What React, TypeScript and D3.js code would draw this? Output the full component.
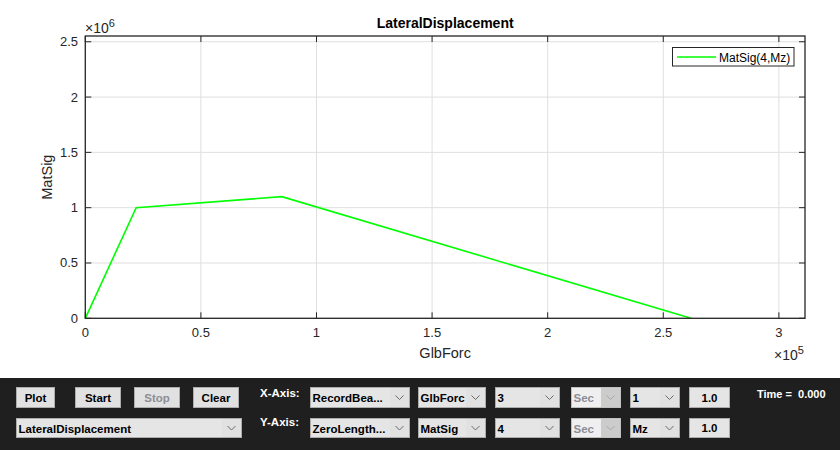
import React from "react";
import * as d3 from "d3";

// ---- chart data ----
const seriesX = [0, 2.2e4, 8.5e4, 2.62e5];
const seriesY = [0, 1.0e6, 1.1e6, 0];
const xTicks = [0, 0.5e5, 1e5, 1.5e5, 2e5, 2.5e5, 3e5];
const xTickLabels = ["0", "0.5", "1", "1.5", "2", "2.5", "3"];
const yTicks = [0, 0.5e6, 1e6, 1.5e6, 2e6, 2.5e6];
const yTickLabels = ["0", "0.5", "1", "1.5", "2", "2.5"];
const xDomain = [0, 3.113e5];
const yDomain = [0, 2.552e6];
const chartTitle = "LateralDisplacement";
const xLabel = "GlbForc";
const yLabel = "MatSig";
const legendLabel = "MatSig(4,Mz)";

// ---- control panel content ----
const buttonLabels = ["Plot", "Start", "Stop", "Clear"];
const buttonDisabled = [false, false, true, false];
const row1Dropdowns = ["RecordBea...", "GlbForc", "3", "Sec", "1"];
const row2Dropdowns = ["ZeroLength...", "MatSig", "4", "Sec", "Mz"];
const dropdownDisabled = [false, false, false, true, false];
const fieldValues = ["1.0", "1.0"];
const axisLabels = ["X-Axis:", "Y-Axis:"];
const plotSelection = "LateralDisplacement";
const timeText = "Time =  0.000";

const W = 840;
const H = 450;
const L = 85.3, R = 805, T = 36, B = 318.3;
const chartFont = "Liberation Sans, Arial, Helvetica, sans-serif";
const uiFont = "Liberation Sans, Arial, sans-serif";
const uiSize = 11.5;

const ddX = [[310, 410], [418, 486], [495, 560], [571, 621], [630, 680]];
const btnX = [[16, 55], [75, 121], [134, 180], [193, 239]];

function Chevron({ x, y, color }: { x: number; y: number; color: string }) {
  return (
    <path d={`M${x - 4},${y - 2} L${x},${y + 2} L${x + 4},${y - 2}`} fill="none" stroke={color} strokeWidth={1} />
  );
}

function Dropdown({ x0, x1, y0, y1, text, disabled }: any) {
  const cw = 20;
  return (
    <g>
      <rect x={x0 + 0.5} y={y0 + 0.5} width={x1 - x0 - 1} height={y1 - y0 - 1}
        fill={disabled ? "#efefef" : "#e5e5e5"} stroke={disabled ? "#bfbfbf" : "#acacac"} />
      <rect x={x1 - cw} y={y0 + 1} width={cw - 1} height={y1 - y0 - 2} fill={disabled ? "#cccccc" : "#e1e1e1"} />
      <Chevron x={x1 - cw / 2 - 0.5} y={(y0 + y1) / 2} color={disabled ? "#a8a8a8" : "#6a6a6a"} />
      <text x={x0 + 2.5} y={(y0 + y1) / 2 + 4.5} fontFamily={uiFont} fontWeight="bold" fontSize={uiSize}
        fill={disabled ? "#8d8d96" : "#000"}>{text}</text>
    </g>
  );
}

export default function App() {
  const x = d3.scaleLinear().domain(xDomain).range([L, R]);
  const y = d3.scaleLinear().domain(yDomain).range([B, T]);
  const line = d3.line<number>().x((_, i) => x(seriesX[i])).y((d) => y(d));
  const tick = 6;
  const axisColor = "#262626";
  const row1 = [387, 408];
  const row2 = [418, 438];

  return (
    <svg width={W} height={H} style={{ position: "fixed", left: 0, top: 0, background: "#fff" }}>
      <rect x={0} y={0} width={W} height={378} fill="#ffffff" />
      {/* grid */}
      <g stroke="#dfdfdf" strokeWidth={1}>
        {xTicks.map((t, i) => (
          <line key={"gx" + i} x1={x(t)} x2={x(t)} y1={T} y2={B} />
        ))}
        {yTicks.map((t, i) => (
          <line key={"gy" + i} x1={L} x2={R} y1={y(t)} y2={y(t)} />
        ))}
      </g>
      {/* data line */}
      <path d={line(seriesY) || ""} fill="none" stroke="#00ff00" strokeWidth={1.6} />
      {/* axes box */}
      <rect x={L} y={T} width={R - L} height={B - T} fill="none" stroke={axisColor} strokeWidth={1.3} />
      {/* ticks */}
      <g stroke={axisColor} strokeWidth={1}>
        {xTicks.map((t, i) => (
          <g key={"tx" + i}>
            <line x1={x(t)} x2={x(t)} y1={B} y2={B - tick} />
            <line x1={x(t)} x2={x(t)} y1={T} y2={T + tick} />
          </g>
        ))}
        {yTicks.map((t, i) => (
          <g key={"ty" + i}>
            <line x1={L} x2={L + tick} y1={y(t)} y2={y(t)} />
            <line x1={R} x2={R - tick} y1={y(t)} y2={y(t)} />
          </g>
        ))}
      </g>
      {/* tick labels */}
      <g fontFamily={chartFont} fontSize={13} fill="#262626">
        {xTicks.map((t, i) => (
          <text key={"lx" + i} x={x(t)} y={337} textAnchor="middle">{xTickLabels[i]}</text>
        ))}
        {yTicks.map((t, i) => (
          <text key={"ly" + i} x={78} y={y(t) + 4.5} textAnchor="end">{yTickLabels[i]}</text>
        ))}
      </g>
      {/* exponents */}
      <text x={85} y={33} fontFamily={chartFont} fontSize={14} fill="#262626">
        ×10<tspan dy={-6} fontSize={11}>6</tspan>
      </text>
      <text x={774} y={360} fontFamily={chartFont} fontSize={14} fill="#262626">
        ×10<tspan dy={-6} fontSize={11}>5</tspan>
      </text>
      {/* title & labels */}
      <text x={(L + R) / 2} y={28} textAnchor="middle" fontFamily={chartFont} fontWeight="bold" fontSize={14} fill="#000">
        {chartTitle}
      </text>
      <text x={(L + R) / 2} y={358} textAnchor="middle" fontFamily={chartFont} fontSize={14.5} fill="#262626">
        {xLabel}
      </text>
      <text transform={`translate(52,${(T + B) / 2}) rotate(-90)`} textAnchor="middle" fontFamily={chartFont} fontSize={14.5} fill="#262626">
        {yLabel}
      </text>
      {/* legend */}
      <rect x={672.5} y={47.5} width={121.5} height={18.5} fill="#fff" stroke={axisColor} strokeWidth={1} />
      <line x1={677} x2={716} y1={57} y2={57} stroke="#00ff00" strokeWidth={1.6} />
      <text x={719} y={61.5} fontFamily={chartFont} fontSize={12} fill="#000">{legendLabel}</text>

      {/* control panel */}
      <rect x={0} y={378} width={W} height={H - 378} fill="#1f1f1f" />
      {buttonLabels.map((b, i) => (
        <g key={"b" + i}>
          <rect x={btnX[i][0] + 0.5} y={row1[0] + 0.5} width={btnX[i][1] - btnX[i][0] - 1} height={row1[1] - row1[0] - 1}
            fill="#e1e1e1" stroke="#adadad" />
          <text x={(btnX[i][0] + btnX[i][1]) / 2} y={402} textAnchor="middle" fontFamily={uiFont} fontWeight="bold"
            fontSize={uiSize} fill={buttonDisabled[i] ? "#8d8d96" : "#000"}>{b}</text>
        </g>
      ))}
      <Dropdown x0={16} x1={242} y0={row2[0]} y1={row2[1]} text={plotSelection} disabled={false} />
      <text x={260} y={397} fontFamily={uiFont} fontWeight="bold" fontSize={uiSize} fill="#fff">{axisLabels[0]}</text>
      <text x={260} y={426} fontFamily={uiFont} fontWeight="bold" fontSize={uiSize} fill="#fff">{axisLabels[1]}</text>
      {row1Dropdowns.map((d, i) => (
        <Dropdown key={"r1" + i} x0={ddX[i][0]} x1={ddX[i][1]} y0={row1[0]} y1={row1[1]} text={d} disabled={dropdownDisabled[i]} />
      ))}
      {row2Dropdowns.map((d, i) => (
        <Dropdown key={"r2" + i} x0={ddX[i][0]} x1={ddX[i][1]} y0={row2[0]} y1={row2[1]} text={d} disabled={dropdownDisabled[i]} />
      ))}
      {fieldValues.map((v, i) => {
        const r = i === 0 ? row1 : row2;
        return (
          <g key={"f" + i}>
            <rect x={689.5} y={r[0] + 0.5} width={40} height={r[1] - r[0] - 1} fill="#e5e5e5" stroke="#acacac" />
            <text x={709.5} y={(r[0] + r[1]) / 2 + 4} textAnchor="middle" fontFamily={uiFont} fontWeight="bold" fontSize={uiSize} fill="#000">{v}</text>
          </g>
        );
      })}
      <text x={757} y={398} fontFamily={uiFont} fontWeight="bold" fontSize={11} fill="#fff" style={{ whiteSpace: "pre" }}>{timeText}</text>
    </svg>
  );
}
